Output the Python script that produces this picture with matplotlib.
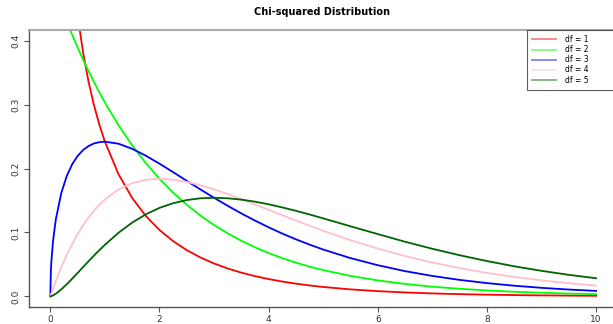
import numpy as np
import matplotlib
matplotlib.use("Agg")
import matplotlib.pyplot as plt

# x grid and density values
x = [0, 0.01, 0.02, 0.05, 0.1, 0.2, 0.3, 0.4, 0.5, 0.6, 0.7, 0.8, 0.9, 1.0,
     1.25, 1.5, 1.75, 2, 2.25, 2.5, 2.75, 3, 3.25, 3.5, 3.75, 4, 4.25, 4.5,
     4.75, 5, 5.5, 6, 6.5, 7, 7.5, 8, 8.5, 9, 9.5, 10]

df1 = [np.nan, np.nan, np.nan, 1.740, 1.2000, 0.8072, 0.6269, 0.5164, 0.4394,
       0.3815, 0.3360, 0.2990, 0.2681, 0.2420, 0.1910, 0.1539, 0.1257, 0.1038,
       0.08634, 0.07229, 0.06083, 0.05139, 0.04357, 0.03706, 0.03159, 0.02700,
       0.02311, 0.01982, 0.01703, 0.01464, 0.01087, 0.008109, 0.006067,
       0.004553, 0.003426, 0.002583, 0.001952, 0.001477, 0.001120, 0.000850]
df2 = [0.5, 0.4975, 0.4950, 0.4877, 0.4756, 0.4524, 0.4304, 0.4094, 0.3894,
       0.3704, 0.3523, 0.3352, 0.3188, 0.3033, 0.2676, 0.2362, 0.2084, 0.1839,
       0.1623, 0.1433, 0.1264, 0.1116, 0.0985, 0.0869, 0.0767, 0.0677, 0.0597,
       0.0527, 0.0465, 0.0410, 0.0320, 0.0249, 0.0194, 0.0151, 0.0118, 0.0092,
       0.0071, 0.0056, 0.0043, 0.0034]
df3 = [0, 0.0397, 0.0559, 0.0870, 0.1200, 0.1614, 0.1881, 0.2066, 0.2197,
       0.2289, 0.2352, 0.2392, 0.2413, 0.2420, 0.2388, 0.2308, 0.2200, 0.2076,
       0.1943, 0.1807, 0.1673, 0.1542, 0.1416, 0.1297, 0.1185, 0.1080, 0.0982,
       0.0892, 0.0809, 0.0732, 0.0598, 0.0487, 0.0394, 0.0319, 0.0257, 0.0207,
       0.0166, 0.0133, 0.0106, 0.0085]
df4 = [0, 0.00249, 0.00495, 0.01219, 0.02378, 0.04524, 0.06455, 0.08187,
       0.09735, 0.11112, 0.12332, 0.13406, 0.14347, 0.15163, 0.16727, 0.17714,
       0.18238, 0.18394, 0.18262, 0.17906, 0.17383, 0.16735, 0.15999, 0.15205,
       0.14377, 0.13534, 0.12689, 0.11858, 0.11046, 0.10261, 0.08790, 0.07468,
       0.06301, 0.05284, 0.04410, 0.03663, 0.03031, 0.02500, 0.02055, 0.01684]
df5 = [0, 0.000132, 0.000372, 0.00145, 0.0040, 0.01076, 0.01881, 0.02755,
       0.03662, 0.04578, 0.05488, 0.06379, 0.07239, 0.08066, 0.09950, 0.1154,
       0.1283, 0.1384, 0.1457, 0.1506, 0.1534, 0.1542, 0.1534, 0.1513, 0.1481,
       0.1440, 0.1391, 0.1338, 0.1281, 0.1220, 0.1096, 0.0974, 0.0854, 0.0744,
       0.0643, 0.0552, 0.0470, 0.0399, 0.0336, 0.0283]

series = [df1, df2, df3, df4, df5]
labels = ["df = 1", "df = 2", "df = 3", "df = 4", "df = 5"]
colors = ["#FF0000", "#00FF00", "#0000FF", "#FFC0CB", "#006400"]

fig = plt.figure(figsize=(6.13, 3.24), dpi=100)
ax = fig.add_axes([28.5 / 613, 17 / 324, 584.5 / 613, 277.3 / 324])

for y, lab, c in zip(series, labels, colors):
    ax.plot(x, y, color=c, lw=1.3, label=lab)

ax.set_xlim(-0.4, 10.31)
ax.set_ylim(-0.0167, 0.4172)
ax.set_xticks([0, 2, 4, 6, 8, 10])
ax.set_yticks([0.0, 0.1, 0.2, 0.3, 0.4])
ax.set_yticklabels(["0.0", "0.1", "0.2", "0.3", "0.4"], rotation=90, va="center")
ax.tick_params(labelsize=6.5, colors="#555555", labelcolor="#333333",
               length=3.5, width=0.8, pad=2)

for side in ["left", "bottom"]:
    ax.spines[side].set_color("#555555")
    ax.spines[side].set_linewidth(1.0)
ax.spines["top"].set_color("#AAAAAA")
ax.spines["top"].set_linewidth(1.5)
ax.spines["right"].set_visible(False)

# legend box runs past the right edge, as in the original
leg = ax.legend(loc="upper left", bbox_to_anchor=(0.853, 0.0, 0.16, 1.0),
                mode="expand", fontsize=5.5, frameon=True, fancybox=False,
                handlelength=3.1, handletextpad=1.2, labelspacing=0.15,
                borderpad=0.7, borderaxespad=0)
leg.get_frame().set_edgecolor("#333333")
leg.get_frame().set_linewidth(0.8)
for line in leg.get_lines():
    line.set_alpha(0.5)

fig.suptitle("Chi-squared Distribution", fontsize=7, fontweight="bold",
             x=0.525, y=1 - 12 / 324, va="center")

fig.savefig("out.png", dpi=100)
